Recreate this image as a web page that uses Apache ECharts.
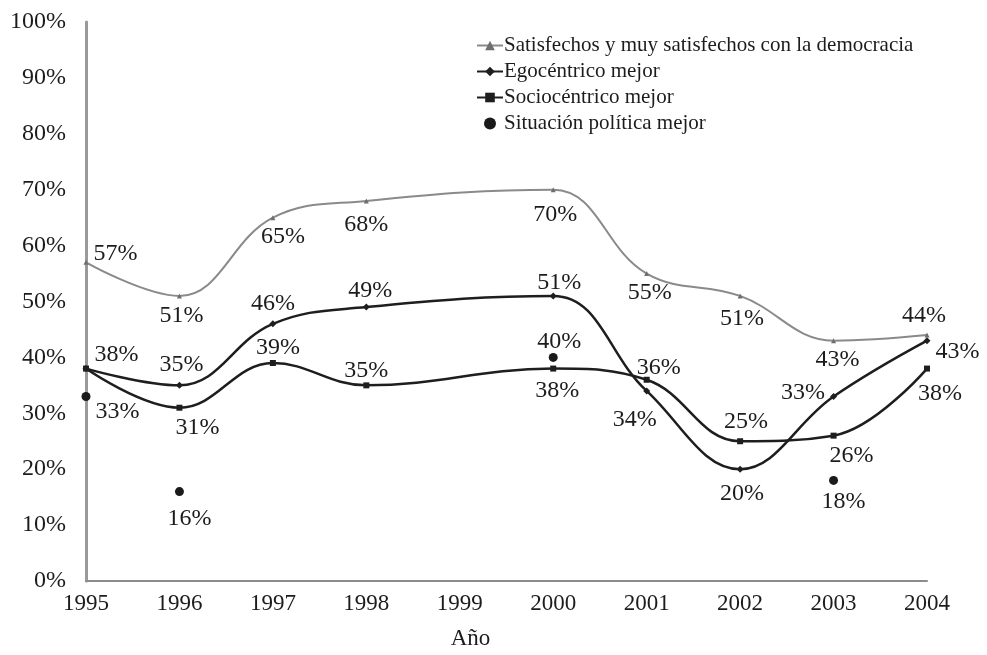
<!DOCTYPE html>
<html>
<head>
<meta charset="utf-8">
<script src="https://cdn.jsdelivr.net/npm/echarts@6/dist/echarts.min.js"></script>
<style>
html,body{margin:0;padding:0;background:#fff;overflow:hidden;}
#chart{width:100vw;height:100vh;}
</style>
</head>
<body>
<div id="chart"></div>
<script>
// ---- data ----
var years = ['1995','1996','1997','1998','1999','2000','2001','2002','2003','2004'];
var satisfechos = [57, 51, 65, 68, null, 70, 55, 51, 43, 44];
var egocentrico = [38, 35, 46, 49, null, 51, 34, 20, 33, 43];
var sociocentrico = [38, 31, 39, 35, null, 38, 36, 25, 26, 38];
var situacion = [33, 16, null, null, null, 40, null, null, 18, null];
var seriesNames = [
  'Satisfechos y muy satisfechos con la democracia',
  'Egocéntrico mejor',
  'Sociocéntrico mejor',
  'Situación política mejor'
];
var yTicks = ['0%','10%','20%','30%','40%','50%','60%','70%','80%','90%','100%'];

// ---- label layout (position, offset) per point ----
var satLabelLayout = [
  ['right',[0,-9]], ['bottom',[2,0]], ['bottom',[10,0]], ['bottom',[0,4]], null,
  ['bottom',[2,6]], ['bottom',[3,0]], ['bottom',[2,3]], ['bottom',[4,0]], ['top',[-3,0]]
];
var egoLabelLayout = [
  ['right',[0,-14]], ['top',[2,0]], ['top',[0,0]], ['top',[4,4]], null,
  ['top',[6,7]], ['bottom',[-12,8]], ['bottom',[2,4]], ['left',[0,-4]], ['right',[0,11]]
];
var socLabelLayout = [
  'hide', ['bottom',[18,0]], ['top',[5,5]], ['top',[0,5]], null,
  ['bottom',[4,2]], ['top',[12,8]], ['top',[6,0]], ['bottom',[18,0]], ['bottom',[13,5]]
];
var sitLabelLayout = [
  ['right',[0,15]], ['bottom',[10,6]], null, null, null,
  ['top',[6,6]], null, null, ['bottom',[10,0]], null
];

var FONT = 'Liberation Serif';
var TXT = '#1c1c1c';

function buildData(values, layout) {
  return values.map(function (v, i) {
    if (v === null) return null;
    var l = layout[i];
    if (l === 'hide' || !l) return { value: v, label: { show: false } };
    return { value: v, label: { show: true, position: l[0], offset: l[1] } };
  });
}

var labelBase = {
  show: true,
  formatter: function (p) { return p.value + '%'; },
  fontFamily: FONT,
  fontSize: 24,
  color: TXT,
  opacity: 1,
  distance: 5
};

var chart = echarts.init(document.getElementById('chart'), null, { renderer: 'canvas' });
chart.setOption({
  backgroundColor: '#ffffff',
  animation: false,
  grid: { left: 86, right: 60, top: 22, bottom: 65, containLabel: false },
  legend: {
    orient: 'vertical',
    left: 471,
    top: 30,
    itemWidth: 26,
    itemHeight: 12,
    itemGap: 5,
    textStyle: { fontFamily: FONT, fontSize: 21, color: TXT, padding: [0,0,0,-4] },
    data: seriesNames
  },
  xAxis: {
    type: 'category',
    data: years,
    boundaryGap: false,
    axisLine: { lineStyle: { color: '#8c8c8c', width: 2 } },
    axisTick: { show: false },
    axisLabel: { fontFamily: FONT, fontSize: 23, color: TXT, margin: 11 },
    splitLine: { show: false },
    name: 'Año',
    nameLocation: 'middle',
    nameGap: 46,
    nameTextStyle: { fontFamily: FONT, fontSize: 23, color: TXT, padding: [0, 72, 0, 0] }
  },
  yAxis: {
    type: 'value',
    min: 0,
    max: 100,
    interval: 10,
    axisLine: { show: true, lineStyle: { color: '#9a9a9a', width: 3 } },
    axisTick: { show: false },
    splitLine: { show: false },
    axisLabel: {
      fontFamily: FONT, fontSize: 24, color: TXT, margin: 20,
      formatter: function (v) { return yTicks[Math.round(v / 10)]; }
    }
  },
  series: [
    {
      name: seriesNames[0],
      type: 'line',
      smooth: 0.4,
      connectNulls: true,
      data: buildData(satisfechos, satLabelLayout),
      symbol: 'triangle',
      symbolSize: 5,
      lineStyle: { color: '#8a8a8a', width: 2 },
      itemStyle: { color: '#6e6e6e' },
      label: labelBase,
      z: 2
    },
    {
      name: seriesNames[1],
      type: 'line',
      smooth: 0.4,
      connectNulls: true,
      data: buildData(egocentrico, egoLabelLayout),
      symbol: 'diamond',
      symbolSize: 7,
      lineStyle: { color: '#1e1e1e', width: 2.5 },
      itemStyle: { color: '#1e1e1e' },
      label: labelBase,
      z: 3
    },
    {
      name: seriesNames[2],
      type: 'line',
      smooth: 0.4,
      connectNulls: true,
      data: buildData(sociocentrico, socLabelLayout),
      symbol: 'rect',
      symbolSize: 6,
      lineStyle: { color: '#1e1e1e', width: 2.5 },
      itemStyle: { color: '#1e1e1e' },
      label: labelBase,
      z: 3
    },
    {
      name: seriesNames[3],
      type: 'scatter',
      data: buildData(situacion, sitLabelLayout),
      symbol: 'circle',
      symbolSize: 9,
      itemStyle: { color: '#1a1a1a', opacity: 1 },
      label: labelBase,
      z: 4
    }
  ]
});
</script>
</body>
</html>
